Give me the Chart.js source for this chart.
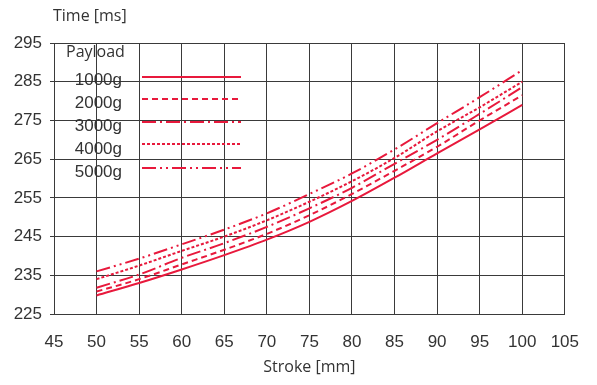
<!DOCTYPE html>
<html>
<head>
<meta charset="utf-8">
<script src="https://cdn.jsdelivr.net/npm/chart.js@4/dist/chart.umd.min.js"></script>
<style>
html,body{margin:0;padding:0;background:#fff;}
#wrap{width:597px;height:385px;position:relative;}
</style>
</head>
<body>
<div id="wrap"><canvas id="c" width="597" height="385"></canvas></div>
<script>
const stroke = [50, 55, 60, 65, 70, 75, 80, 85, 90, 95, 100];
const payloads = ['1000g', '2000g', '3000g', '4000g', '5000g'];
const t1000 = [229.8, 233.0, 236.5, 240.2, 244.2, 248.8, 254.2, 260.2, 266.5, 272.7, 279.0];
const t2000 = [230.8, 234.0, 237.8, 241.6, 245.7, 250.5, 256.0, 262.0, 268.2, 275.0, 281.5];
const t3000 = [231.8, 235.2, 239.5, 243.3, 247.5, 252.3, 257.6, 263.8, 270.0, 276.7, 283.6];
const t4000 = [234.0, 237.5, 241.3, 245.0, 249.2, 254.0, 259.3, 265.3, 272.2, 278.4, 285.0];
const t5000 = [236.0, 239.3, 243.0, 246.8, 251.0, 256.0, 261.3, 267.5, 274.3, 281.0, 288.0];
const xTicks = [45, 50, 55, 60, 65, 70, 75, 80, 85, 90, 95, 100, 105];
const yTicks = [225, 235, 245, 255, 265, 275, 285, 295];

const RED = '#e8193c';
const dashes = [[], [6, 4], [14, 4, 2, 4], [3, 2], [14, 4, 2, 4, 2, 4]];
const series = [t1000, t2000, t3000, t4000, t5000];

const tickFont = {family: "'Liberation Sans Narrow', 'Liberation Sans', Arial, sans-serif", size: 17};
const textFont = "'Open Sans', 'DejaVu Sans', sans-serif";

const legendPlugin = {
  id: 'customLegend',
  afterDraw(chart) {
    const ctx = chart.ctx;
    ctx.save();
    ctx.fillStyle = '#333';
    ctx.textBaseline = 'middle';
    ctx.font = "16px " + textFont;
    ctx.textAlign = 'left';
    ctx.fillText('Time [ms]', 53, 16);
    ctx.fillText('Payload', 66, 52);
    ctx.font = "17px 'Liberation Sans Narrow', 'Liberation Sans', Arial, sans-serif";
    ctx.textAlign = 'right';
    const labelY = [80, 103, 126, 149, 172];
    const lineY = [77, 99, 122, 144, 168];
    payloads.forEach((p, i) => {
      ctx.fillStyle = '#333';
      ctx.fillText(p, 122, labelY[i]);
      ctx.strokeStyle = RED;
      ctx.lineWidth = 2;
      ctx.setLineDash(dashes[i]);
      ctx.beginPath();
      ctx.moveTo(142, lineY[i]);
      ctx.lineTo(241, lineY[i]);
      ctx.stroke();
    });
    ctx.restore();
  }
};

const datasets = series.map((vals, i) => ({
  label: payloads[i],
  data: stroke.map((x, j) => ({x: x, y: vals[j]})),
  borderColor: RED,
  backgroundColor: RED,
  borderWidth: 2,
  borderDash: dashes[i],
  pointRadius: 0,
  cubicInterpolationMode: 'monotone',
  fill: false
}));

new Chart(document.getElementById('c'), {
  type: 'line',
  data: {datasets: datasets},
  options: {
    responsive: false,
    animation: false,
    layout: {padding: {top: 43, right: 24, left: 0, bottom: 0}},
    plugins: {legend: {display: false}, tooltip: {enabled: false}},
    scales: {
      x: {
        type: 'linear', min: 45, max: 105,
        afterBuildTicks: s => { s.ticks = xTicks.map(v => ({value: v})); },
        afterFit: s => { s.height = 71; },
        grid: {color: '#3a3a3a', lineWidth: 1, drawTicks: false},
        border: {color: '#3a3a3a', width: 1},
        ticks: {color: '#333', font: tickFont, padding: 18, maxRotation: 0, autoSkip: false},
        title: {display: true, text: 'Stroke [mm]', color: '#333', font: {family: textFont, size: 16}, padding: {top: 4, bottom: 8}}
      },
      y: {
        type: 'linear', min: 225, max: 295,
        afterBuildTicks: s => { s.ticks = yTicks.map(v => ({value: v})); },
        afterFit: s => { s.width = 54; },
        grid: {color: '#3a3a3a', lineWidth: 1, drawTicks: true, tickLength: 4},
        border: {color: '#3a3a3a', width: 1},
        ticks: {color: '#333', font: tickFont, padding: 8, autoSkip: false}
      }
    }
  },
  plugins: [legendPlugin]
});
</script>
</body>
</html>
